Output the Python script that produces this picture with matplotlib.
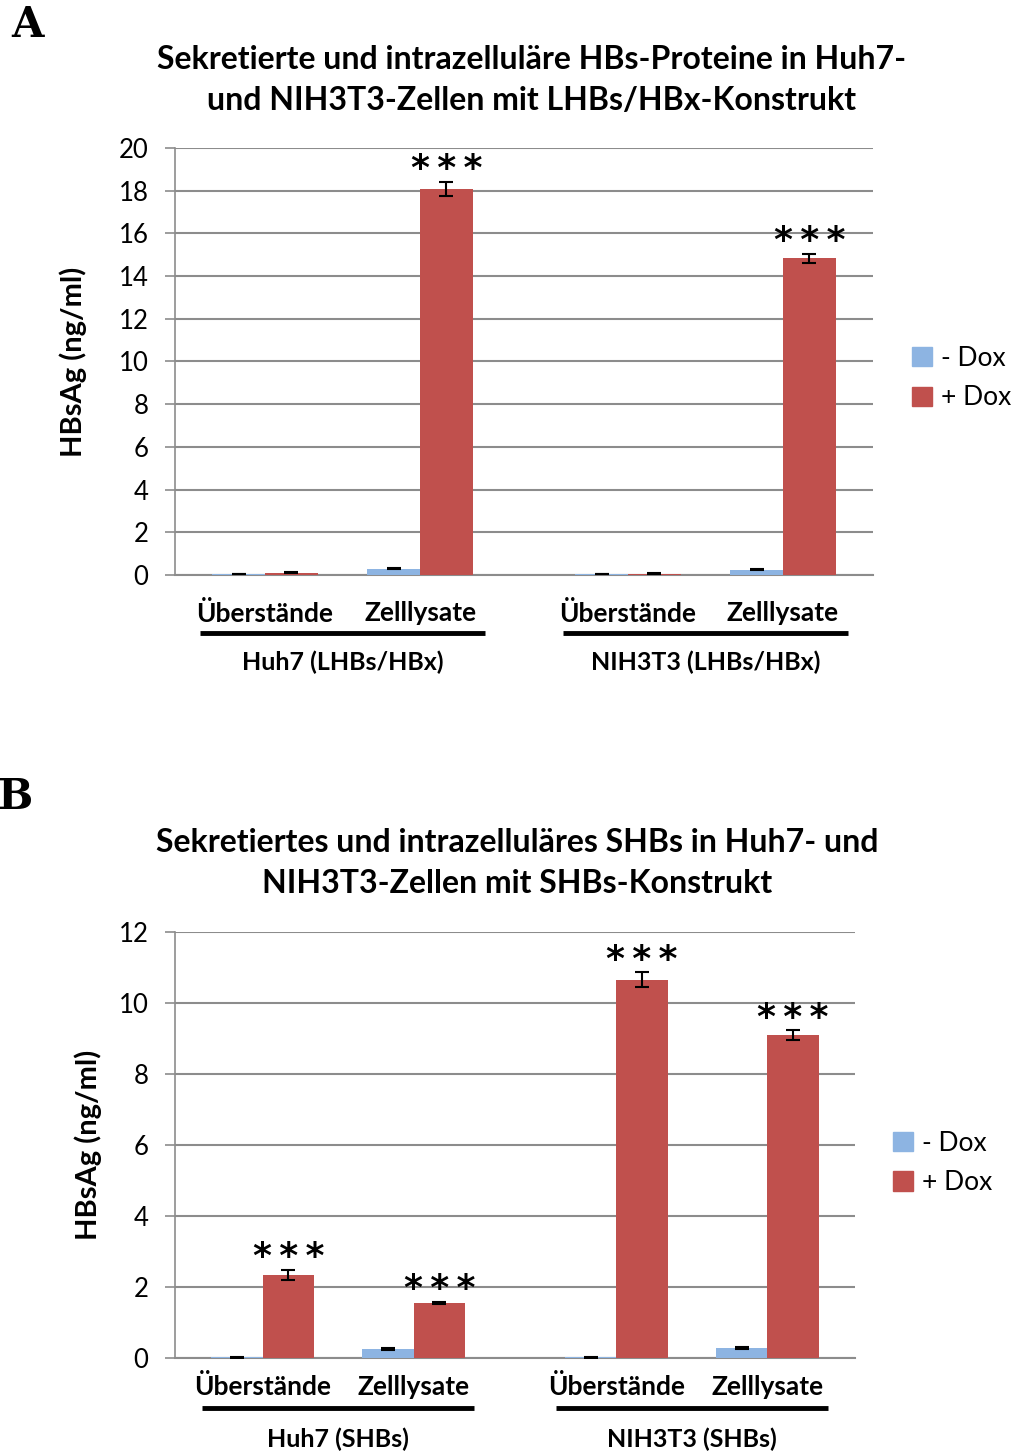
import numpy as np
import matplotlib.pyplot as plt
import matplotlib.transforms as mtransforms
from matplotlib.patches import Patch

plt.rcParams['font.family'] = ['Lato', 'DejaVu Sans']

BLUE = '#8DB4E2'
RED = '#C0504D'
GRID = '#8C8C8C'

CATS = ['Überstände', 'Zelllysate', 'Überstände', 'Zelllysate']
POS = [0, 1, 2.34, 3.34]

# Panel A
A_TITLE = 'Sekretierte und intrazelluläre HBs-Proteine in Huh7-\nund NIH3T3-Zellen mit LHBs/HBx-Konstrukt'
A_GROUPS = ['Huh7 (LHBs/HBx)', 'NIH3T3 (LHBs/HBx)']
A_minus = [0.05, 0.30, 0.05, 0.25]
A_minus_err = [0.02, 0.03, 0.02, 0.03]
A_plus = [0.10, 18.08, 0.07, 14.83]
A_plus_err = [0.02, 0.34, 0.02, 0.21]
A_star = [False, True, False, True]

# Panel B
B_TITLE = 'Sekretiertes und intrazelluläres SHBs in Huh7- und\nNIH3T3-Zellen mit SHBs-Konstrukt'
B_GROUPS = ['Huh7 (SHBs)', 'NIH3T3 (SHBs)']
B_minus = [0.02, 0.25, 0.02, 0.28]
B_minus_err = [0.01, 0.03, 0.01, 0.03]
B_plus = [2.34, 1.56, 10.65, 9.09]
B_plus_err = [0.13, 0.03, 0.21, 0.14]
B_star = [True, True, True, True]

fig = plt.figure(figsize=(10.16, 14.54), dpi=100)


def panel(rect, title, title_xy, groups, minus, minus_err, plus, plus_err, stars,
          ymax, ystep, lab_y, line_y, grp_y, line_half, leg_xy, ylab_pad):
    ax = fig.add_axes(rect)
    w = 0.34
    x = np.array(POS)
    ax.bar(x - w / 2, minus, w, color=BLUE, zorder=3)
    ax.bar(x + w / 2, plus, w, color=RED, zorder=3)
    ax.errorbar(x - w / 2, minus, yerr=minus_err, fmt='none', ecolor='black',
                elinewidth=1.5, capsize=5, capthick=1.5, zorder=4)
    ax.errorbar(x + w / 2, plus, yerr=plus_err, fmt='none', ecolor='black',
                elinewidth=1.5, capsize=5, capthick=1.5, zorder=4)
    for xi, v, e, s in zip(x, plus, plus_err, stars):
        if s:
            ax.annotate('*\u2009*\u2009*', (xi + w / 2, v + e), xytext=(0, -3),
                        textcoords='offset points', ha='center', va='bottom',
                        fontsize=26, family='DejaVu Sans', fontweight='bold')
    ax.set_xlim(-0.58, 3.92)
    ax.set_ylim(0, ymax)
    ax.set_yticks(np.arange(0, ymax + 0.1, ystep))
    ax.yaxis.grid(True, color=GRID, lw=1.5, zorder=0)
    ax.set_axisbelow(True)
    for s in ['top', 'right']:
        ax.spines[s].set_visible(False)
    ax.spines['left'].set_color(GRID)
    ax.spines['bottom'].set_color(GRID)
    ax.spines['left'].set_linewidth(1.2)
    ax.spines['bottom'].set_linewidth(1.5)
    ax.tick_params(axis='y', length=7, width=1.2, color=GRID, labelsize=18.5, pad=12)
    ax.tick_params(axis='x', length=0)
    ax.set_xticks([])
    ax.set_ylabel('HBsAg (ng/ml)', fontsize=21, fontweight='bold', labelpad=ylab_pad)

    tr = mtransforms.blended_transform_factory(ax.transData, ax.transAxes)
    for xi, c in zip(x, CATS):
        ax.text(xi, lab_y, c, transform=tr, ha='center', va='center',
                fontsize=19, fontweight='bold')
    for gi, g in enumerate(groups):
        gc = (x[2 * gi] + x[2 * gi + 1]) / 2
        ax.plot([gc - line_half, gc + line_half], [line_y, line_y], color='black',
                lw=3.5, transform=tr, clip_on=False, solid_capstyle='butt')
        ax.text(gc, grp_y, g, transform=tr, ha='center', va='center',
                fontsize=18, fontweight='bold')

    fig.text(title_xy[0], title_xy[1], title, ha='center', va='center',
             fontsize=23, fontweight='bold', linespacing=1.5)

    handles = [Patch(color=BLUE, label='- Dox'), Patch(color=RED, label='+ Dox')]
    ax.legend(handles=handles, loc='center left', bbox_to_anchor=leg_xy,
              frameon=False, fontsize=19, handlelength=0.75, handleheight=0.75,
              handletextpad=0.35, labelspacing=0.55, borderaxespad=0, borderpad=0)
    return ax


panel([175 / 1016, 1 - 575 / 1454, 698 / 1016, 427 / 1454], A_TITLE,
      (532 / 1016, 1 - 80 / 1454), A_GROUPS, A_minus, A_minus_err, A_plus,
      A_plus_err, A_star, 20, 2, -0.089, -0.136, -0.204, 0.92, (1.056, 0.461), 23)

panel([175 / 1016, 1 - 1358 / 1454, 680 / 1016, 426 / 1454], B_TITLE,
      (517 / 1016, 1 - 863 / 1454), B_GROUPS, B_minus, B_minus_err, B_plus,
      B_plus_err, B_star, 12, 2, -0.068, -0.117, -0.192, 0.9, (1.056, 0.458), 12)

fig.text(27 / 1016, 1 - 25 / 1454, 'A', fontsize=30, fontweight='bold',
         family='DejaVu Serif', ha='center', va='center')
fig.text(16 / 1016, 1 - 797 / 1454, 'B', fontsize=30, fontweight='bold',
         family='DejaVu Serif', ha='center', va='center')

fig.savefig('out.png', dpi=100)
